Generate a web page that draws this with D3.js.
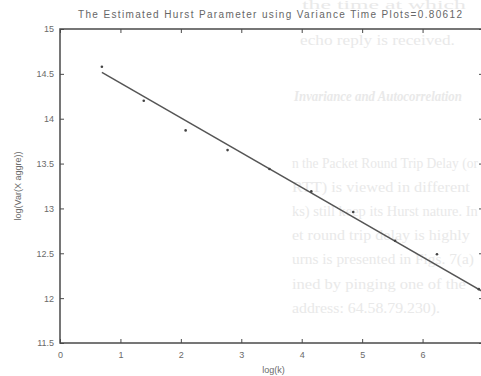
<!DOCTYPE html>
<html>
<head>
<meta charset="utf-8">
<script src="https://cdn.jsdelivr.net/npm/d3@7"></script>
<style>
  html, body { margin: 0; padding: 0; background: #fff; overflow: hidden; }
  svg { display: block; }
  .tick text { font-family: Arial, "Liberation Sans", sans-serif; }
</style>
</head>
<body>
<svg id="chart" width="481" height="376"></svg>
<script>
// values
const logK = [0.693, 1.386, 2.079, 2.773, 3.466, 4.159, 4.852, 5.545, 6.238, 6.931, 7.625];
const logVar = [14.58, 14.20, 13.87, 13.65, 13.44, 13.19, 12.96, 12.64, 12.49, 12.10, 11.85];
const hurst = 0.80612;
const fitIntercept = 14.786;
const xTicks = [0, 1, 2, 3, 4, 5, 6];
const yTicks = [11.5, 12, 12.5, 13, 13.5, 14, 14.5, 15];

// faint text of the scanned page showing through
const pageLines = [
  "the time at which",
  "echo reply is received.",
  "Invariance and Autocorrelation",
  "n the Packet Round Trip Delay (or",
  "RTT) is viewed in different",
  "ks) still keep its Hurst nature. In",
  "et round trip delay is highly",
  "urns is presented in Figs. 7(a)",
  "ined by pinging one of the",
  "address: 64.58.79.230)."
];

// where each faded line sits: [x0, x1, baseline]
const pageBoxes = [
  [302, 466, 9], [300, 455, 45], [294, 462, 101],
  [292, 478, 168], [292, 470, 192], [292, 478, 216], [292, 470, 240],
  [292, 474, 264], [292, 466, 289], [292, 440, 313]
];

const m = { left: 60, right: 483, top: 29, bottom: 343 };

const svg = d3.select('#chart');

svg.append('g')
  .selectAll('text')
  .data(pageLines)
  .join('text')
  .attr('x', 0)
  .attr('y', 0)
  .attr('font-family', '"Liberation Serif", "DejaVu Serif", serif')
  .attr('font-size', (d, i) => i === 0 ? 12 : 15)
  .attr('font-style', (d, i) => i === 2 ? 'italic' : 'normal')
  .attr('font-weight', (d, i) => i === 2 ? 'bold' : 'normal')
  .attr('fill', '#e9e9e9')
  .text(d => d)
  .attr('transform', function (d, i) {
    const [x0, x1, base] = pageBoxes[i];
    const sx = (x1 - x0) / this.getComputedTextLength();
    return `translate(${x0},${base}) scale(${sx},1)`;
  });

const x = d3.scaleLinear().domain([0, 7]).range([m.left, m.right]);
const y = d3.scaleLinear().domain([11.5, 15]).range([m.bottom, m.top]);

const ink = '#4a4a4a';
const tickInk = '#6a6a6a';

// axes (ticks point inward like the matlab plot)
const gBottom = svg.append('g')
  .attr('transform', `translate(0,${m.bottom})`)
  .call(d3.axisBottom(x).tickValues(xTicks).tickSize(-4).tickPadding(9).tickFormat(d3.format('d')));
const gTop = svg.append('g')
  .attr('transform', `translate(0,${m.top})`)
  .call(d3.axisTop(x).tickValues(xTicks).tickSize(-4).tickFormat(''));
const gLeft = svg.append('g')
  .attr('transform', `translate(${m.left},0)`)
  .call(d3.axisLeft(y).tickValues(yTicks).tickSize(-4).tickPadding(6).tickFormat(d => String(d)));
const gRight = svg.append('g')
  .attr('transform', `translate(${m.right},0)`)
  .call(d3.axisRight(y).tickValues(yTicks).tickSize(-4).tickFormat(''));

[gBottom, gTop, gLeft, gRight].forEach(g => {
  g.select('.domain').remove();
  g.selectAll('.tick line').attr('stroke', ink).attr('stroke-width', 1);
  g.selectAll('.tick text').attr('fill', tickInk).attr('font-size', 9);
});

// frame
svg.append('rect')
  .attr('x', m.left).attr('y', m.top)
  .attr('width', m.right - m.left).attr('height', m.bottom - m.top)
  .attr('fill', 'none')
  .attr('stroke', ink)
  .attr('stroke-width', 1.5);

svg.append('clipPath').attr('id', 'plot')
  .append('rect')
  .attr('x', m.left).attr('y', m.top)
  .attr('width', m.right - m.left).attr('height', m.bottom - m.top);

const plot = svg.append('g').attr('clip-path', 'url(#plot)');

// fitted line, slope = 2H - 2
const slope = 2 * hurst - 2;
const fx = d3.extent(logK);
plot.append('path')
  .datum(fx.map(v => [v, fitIntercept + slope * v]))
  .attr('d', d3.line().x(d => x(d[0])).y(d => y(d[1])))
  .attr('fill', 'none')
  .attr('stroke', '#555')
  .attr('stroke-width', 1.5);

plot.selectAll('circle')
  .data(logK.map((v, i) => [v, logVar[i]]))
  .join('circle')
  .attr('cx', d => x(d[0]))
  .attr('cy', d => y(d[1]))
  .attr('r', 1.3)
  .attr('fill', '#444');

// title and labels
svg.append('text')
  .attr('x', 270).attr('y', 18)
  .attr('text-anchor', 'middle')
  .attr('font-family', 'Arial, "Liberation Sans", sans-serif')
  .attr('font-size', 10)
  .attr('fill', '#666')
  .attr('textLength', 384)
  .attr('lengthAdjust', 'spacing')
  .text(`The Estimated Hurst Parameter using Variance Time Plots=${hurst}`);

svg.append('text')
  .attr('x', (m.left + m.right) / 2 + 2).attr('y', 373)
  .attr('text-anchor', 'middle')
  .attr('font-family', 'Arial, "Liberation Sans", sans-serif')
  .attr('font-size', 9)
  .attr('fill', tickInk)
  .text('log(k)');

svg.append('text')
  .attr('transform', `translate(21,${(m.top + m.bottom) / 2}) rotate(-90)`)
  .attr('text-anchor', 'middle')
  .attr('font-family', 'Arial, "Liberation Sans", sans-serif')
  .attr('font-size', 9)
  .attr('fill', tickInk)
  .text('log(Var(X aggre))');
</script>
</body>
</html>
